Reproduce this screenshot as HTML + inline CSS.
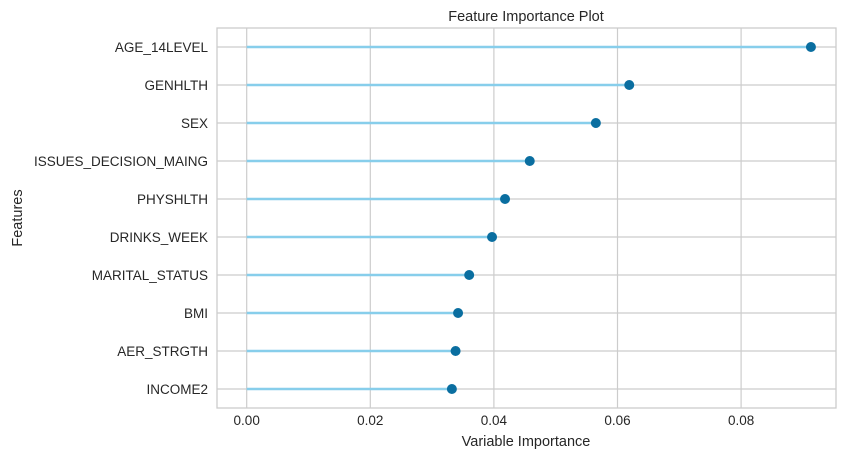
<!DOCTYPE html>
<html><head><meta charset="utf-8"><style>
body{margin:0;background:#fff;font-family:"Liberation Sans",sans-serif}
svg text{font-family:"Liberation Sans",sans-serif;fill:#262626}
</style></head><body>
<svg id="chart" width="847" height="459" xmlns="http://www.w3.org/2000/svg">
<text x="526" y="21" font-size="14.5" text-anchor="middle">Feature Importance Plot</text>
<text x="526" y="446" font-size="14.5" text-anchor="middle">Variable Importance</text>
<text x="22" y="218" font-size="14.5" text-anchor="middle" transform="rotate(-90 22 218)">Features</text>
<g id="plot"></g>
</svg>
<script>
const features=["AGE_14LEVEL","GENHLTH","SEX","ISSUES_DECISION_MAING","PHYSHLTH","DRINKS_WEEK","MARITAL_STATUS","BMI","AER_STRGTH","INCOME2"];
const importances=[0.0913,0.0619,0.0565,0.0458,0.0418,0.0397,0.0360,0.0342,0.0338,0.0332];
const xTicks=[0,0.02,0.04,0.06,0.08];
const xTickLabels=["0.00","0.02","0.04","0.06","0.08"];
const L=217,R=836,T=28,B=408,x0=246.7,k=6180;
const xs=v=>x0+v*k;
const ys=i=>T+(B-T)/features.length*(i+0.5);
const g=document.getElementById('plot');
const NS="http://www.w3.org/2000/svg";
function mk(t,a){const e=document.createElementNS(NS,t);for(const n in a)e.setAttribute(n,a[n]);g.appendChild(e);return e;}
let e=mk('rect',{x:L,y:T,width:R-L,height:B-T,fill:'#fff',stroke:'#cccccc','stroke-width':1.3});


xTicks.forEach((v,i)=>{
 let l=mk('line',{x1:xs(v),x2:xs(v),y1:T,y2:B,stroke:'#cccccc','stroke-width':1.2});
 
 
 let t=mk('text',{x:xs(v),y:B+17,'font-size':13.5,'text-anchor':'middle'});t.textContent=xTickLabels[i];
 
 
});
features.forEach((f,i)=>{
 const y=ys(i);
 let l=mk('line',{x1:L,x2:R,y1:y,y2:y,stroke:'#cccccc','stroke-width':1.2});
 
 
 let t=mk('text',{x:208,y:y+5,'font-size':13.5,'text-anchor':'end'});t.textContent=f;
 
 
});
features.forEach((f,i)=>{
 const y=ys(i);
 let s=mk('line',{x1:xs(0),x2:xs(importances[i]),y1:y,y2:y,stroke:'#87ceeb','stroke-width':2.5});
 
 
 let c=mk('circle',{cx:xs(importances[i]),cy:y,r:5,fill:'#0a6ea0'});
 
 
});
</script>
</body></html>
